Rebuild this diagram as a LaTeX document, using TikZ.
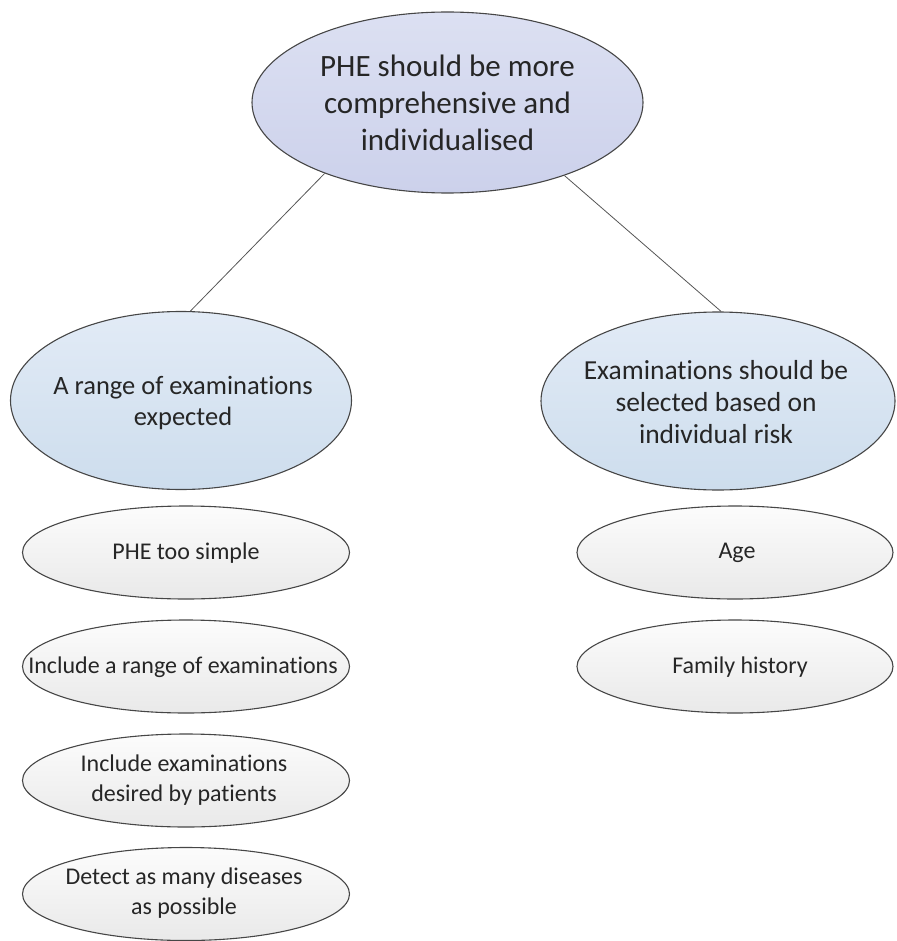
\documentclass[tikz,border=0pt]{standalone}
\usepackage{fontspec}
\setmainfont{Carlito}[Ligatures=NoCommon]
\usetikzlibrary{shapes.geometric}
\definecolor{edgegray}{RGB}{70,70,70}
\definecolor{linkgray}{RGB}{85,85,85}
\definecolor{txt}{RGB}{38,38,38}
\definecolor{topA}{RGB}{220,224,242}
\definecolor{topB}{RGB}{204,209,235}
\definecolor{midA}{RGB}{226,235,246}
\definecolor{midB}{RGB}{205,221,237}
\definecolor{leafA}{RGB}{252,252,252}
\definecolor{leafB}{RGB}{233,233,233}
\tikzset{
  oval/.style={ellipse, draw=edgegray, line width=1.1pt, inner sep=0pt},
  rootoval/.style={oval, top color=topA, bottom color=topB,
    minimum width=391pt, minimum height=181pt},
  themeoval/.style={oval, top color=midA, bottom color=midB, minimum height=178pt},
  leafoval/.style={oval, top color=leafA, bottom color=leafB, minimum height=93pt},
  words/.style={inner sep=0pt, align=center, text=txt},
  roottext/.style={words, font=\fontsize{31}{37}\selectfont},
  themetext/.style={words, font=\fontsize{26.5}{31.5}\selectfont},
  risktext/.style={words, font=\fontsize{27.5}{32}\selectfont},
  leaftext/.style={words, font=\fontsize{24}{29.5}\selectfont},
  link/.style={draw=linkgray, line width=0.8pt}
}
\begin{document}
\begin{tikzpicture}[x=1pt,y=-1pt]
\useasboundingbox (0,0) rectangle (896,941);
% root
\node[rootoval] (root) at (447.5,102.5) {};
\node[roottext] (rootlabel) at (447.5,103)
  {PHE should be more\\comprehensive and\\individualised};
% themes
\node[themeoval, minimum width=341pt] (range) at (181,400.5) {};
\node[themetext] (rangelabel) at (183,403)
  {A range of examinations\\expected};
\node[themeoval, minimum width=354pt] (risk) at (718,401) {};
\node[risktext] (risklabel) at (716,402)
  {Examinations should be\\selected based on\\individual risk};
% leaves under the first theme
\node[leafoval, minimum width=327pt] (simple) at (186,552.5) {};
\node[leaftext] (simplelabel) at (186,553) {PHE too simple};
\node[leafoval, minimum width=327pt] (include) at (186,666.5) {};
\node[leaftext] (includelabel) at (183,667) {Include a range of examinations};
\node[leafoval, minimum width=327pt] (desired) at (186,780.5) {};
\node[leaftext] (desiredlabel) at (184,780) {Include examinations\\desired by patients};
\node[leafoval, minimum width=327pt] (detect) at (186,894) {};
\node[leaftext] (detectlabel) at (184,893) {Detect as many diseases\\as possible};
% leaves under the second theme
\node[leafoval, minimum width=316pt] (age) at (735,552.5) {};
\node[leaftext] (agelabel) at (737,553) {Age};
\node[leafoval, minimum width=316pt] (family) at (735,666.5) {};
\node[leaftext] (familylabel) at (740,667) {Family history};
% connectors
\draw[link] (root.210.2) -- (range.84.9);
\draw[link] (root.328.7) -- (risk.88);
\end{tikzpicture}
\end{document}
